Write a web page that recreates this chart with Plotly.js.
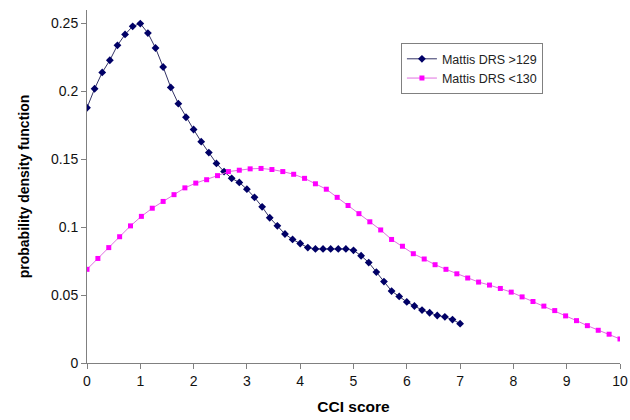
<!DOCTYPE html>
<html>
<head>
<meta charset="utf-8">
<script src="https://cdn.plot.ly/plotly-3.0.1.min.js"></script>
<style>html,body{margin:0;padding:0;background:#fff;}#chart{width:630px;height:420px;}</style>
</head>
<body>
<div id="chart"></div>
<script>
// Series names
var seriesHigh = "Mattis DRS >129";
var seriesLow = "Mattis DRS <130";

// CCI score range and point counts (50 evenly spaced points each)
var highStart = 0, highEnd = 7;
var lowStart = 0, lowEnd = 10;

// Probability density values
var highValues = [0.188, 0.202, 0.214, 0.223, 0.234, 0.242, 0.248, 0.250, 0.243, 0.232,
                  0.218, 0.203, 0.191, 0.181, 0.172, 0.163, 0.155, 0.147, 0.141, 0.136,
                  0.133, 0.128, 0.122, 0.115, 0.107, 0.101, 0.095, 0.091, 0.088, 0.085,
                  0.084, 0.084, 0.084, 0.084, 0.084, 0.083, 0.079, 0.074, 0.067, 0.060,
                  0.053, 0.049, 0.045, 0.042, 0.039, 0.037, 0.035, 0.034, 0.032, 0.029];
var lowValues = [0.069, 0.077, 0.085, 0.093, 0.101, 0.108, 0.114, 0.119, 0.124, 0.129,
                 0.1325, 0.135, 0.138, 0.141, 0.142, 0.143, 0.1433, 0.1425, 0.141, 0.139,
                 0.136, 0.132, 0.128, 0.122, 0.116, 0.110, 0.104, 0.098, 0.091, 0.086,
                 0.0805, 0.0766, 0.0724, 0.069, 0.0657, 0.0626, 0.0596, 0.0574, 0.0549, 0.0522,
                 0.0487, 0.0453, 0.0419, 0.0386, 0.0347, 0.0312, 0.0275, 0.0241, 0.0212, 0.0177];

// Axis tick values / labels
var xTicks = [0, 1, 2, 3, 4, 5, 6, 7, 8, 9, 10];
var yTicks = [0, 0.05, 0.1, 0.15, 0.2, 0.25];
var yTickLabels = ["0", "0.05", "0.1", "0.15", "0.2", "0.25"];

function evenX(start, end, n) {
  var out = [];
  for (var i = 0; i < n; i++) out.push(start + (end - start) * i / (n - 1));
  return out;
}
var highX = evenX(highStart, highEnd, highValues.length);
var lowX = evenX(lowStart, lowEnd, lowValues.length);

var traces = [
  {
    x: highX, y: highValues, name: seriesHigh, type: 'scatter', mode: 'lines+markers',
    line: {color: '#333366', width: 1},
    marker: {symbol: 'diamond', size: 6, color: '#000066'}
  },
  {
    x: lowX, y: lowValues, name: seriesLow, type: 'scatter', mode: 'lines+markers',
    line: {color: '#e070e0', width: 1},
    marker: {symbol: 'square', size: 5, color: '#ff00ff'}
  }
];

var layout = {
  width: 630, height: 420,
  margin: {l: 87, r: 10, t: 10, b: 57},
  paper_bgcolor: '#fff', plot_bgcolor: '#fff',
  font: {family: 'Liberation Sans, Arial, sans-serif', size: 12, color: '#000'},
  showlegend: true,
  legend: {
    x: 0.589, y: 0.906, xanchor: 'left', yanchor: 'top',
    bordercolor: '#808080', borderwidth: 1, bgcolor: '#fff',
    font: {size: 12.5, color: '#222'},
    tracegroupgap: 0, itemwidth: 30
  },
  xaxis: {
    range: [0, 10], tickvals: xTicks, ticktext: xTicks.map(String),
    showgrid: false, zeroline: false, showline: true, linecolor: '#808080', linewidth: 1,
    ticks: 'outside', ticklen: 5, tickcolor: '#808080',
    tickfont: {size: 14, color: '#111'},
    title: {text: '<b>CCI score</b>', font: {size: 15.5}, standoff: 13}
  },
  yaxis: {
    range: [0, 0.26], tickvals: yTicks, ticktext: yTickLabels,
    showgrid: false, zeroline: false, showline: true, linecolor: '#808080', linewidth: 1,
    ticks: 'outside', ticklen: 5, tickcolor: '#808080',
    tickfont: {size: 14, color: '#111'},
    title: {text: '<b>probability density function</b>', font: {size: 14}, standoff: 18}
  }
};

Plotly.newPlot('chart', traces, layout, {displayModeBar: false, staticPlot: true});
</script>
</body>
</html>
